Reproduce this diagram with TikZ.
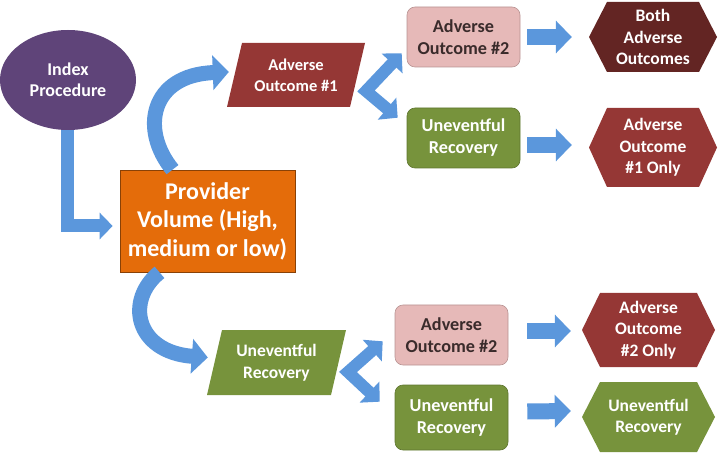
\documentclass[tikz,border=0pt]{standalone}
\usepackage{fontspec}
\setmainfont{Carlito}
\usetikzlibrary{shapes.geometric,arrows.meta,calc}
\definecolor{cpurple}{HTML}{5F4479}
\definecolor{corange}{HTML}{E46C0A}
\definecolor{cred}{HTML}{953735}
\definecolor{cmaroon}{HTML}{632523}
\definecolor{cpink}{HTML}{E6B9B8}
\definecolor{cgreen}{HTML}{77933C}
\definecolor{cblue}{HTML}{5B97DC}
\definecolor{cdark}{HTML}{3A2B2B}
\begin{document}
\begin{tikzpicture}[x=1pt,y=-1pt,
  lbl/.style={align=center, font=\fontsize{17.5}{21.5}\selectfont\bfseries, text=white, inner sep=0pt},
  rbox/.style={lbl, rectangle, rounded corners=8pt, minimum width=113pt, fill=#1, draw=#1!80!black, line width=0.6pt, font=\fontsize{18.2}{22}\selectfont\bfseries},
  hexa/.style={lbl, path picture={\fill[#1] (path picture bounding box.west) -- ([xshift=18pt]path picture bounding box.north west) -- ([xshift=-18pt]path picture bounding box.north east) -- (path picture bounding box.east) -- ([xshift=-18pt]path picture bounding box.south east) -- ([xshift=18pt]path picture bounding box.south west) -- cycle;}},
  parl/.style={lbl, path picture={\fill[#1] ([xshift=15pt]path picture bounding box.north west) -- (path picture bounding box.north east) -- ([xshift=-15pt]path picture bounding box.south east) -- (path picture bounding box.south west) -- cycle;}},
  rarrow/.style={cblue, line width=16pt, -{Triangle[width=32pt,length=16pt]}},
  darrow/.style={cblue, line width=12pt, line join=miter, {Triangle[width=28pt,length=14pt]}-{Triangle[width=28pt,length=14pt]}},
  carrow/.style={cblue, line width=15pt, -{Triangle[width=34pt,length=16pt]}},
]
\useasboundingbox (0,0) rectangle (720,454);

% nodes
\node[lbl, ellipse, fill=cpurple, minimum width=136pt, minimum height=100pt, font=\fontsize{18}{21.5}\selectfont\bfseries] (idx) at (68,80) {Index\\Procedure};
\node[lbl, rectangle, fill=corange, draw=corange!60!black, line width=0.7pt, minimum width=175pt, minimum height=102pt, font=\fontsize{24}{28.5}\selectfont\bfseries] (prov) at (207.5,221) {Provider\\Volume (High,\\medium or low)};

\node[parl=cred, minimum width=138pt, minimum height=64pt, font=\fontsize{16.5}{21}\selectfont\bfseries] (ao1) at (296,75) {Adverse\\Outcome \#1};
\node[rbox=cpink, text=cdark, minimum height=60pt] (ao2t) at (463.5,37) {Adverse\\Outcome \#2};
\node[rbox=cgreen, minimum height=60pt] (ur1) at (463.5,138) {Uneventful\\Recovery};
\node[hexa=cmaroon, minimum width=128pt, minimum height=70pt] (both) at (653,37) {Both\\Adverse\\Outcomes};
\node[hexa=cred, minimum width=128pt, minimum height=79pt] (ao1only) at (653,147.5) {Adverse\\Outcome\\\#1 Only};

\node[parl=cgreen, minimum width=139pt, minimum height=65pt] (ur2) at (276.5,362.5) {Uneventful\\Recovery};
\node[rbox=cpink, text=cdark, minimum height=60pt] (ao2b) at (451.5,335) {Adverse\\Outcome \#2};
\node[rbox=cgreen, minimum height=65pt] (ur3) at (451.5,417.5) {Uneventful\\Recovery};
\node[hexa=cred, minimum width=133pt, minimum height=74pt] (ao2only) at (648.5,330) {Adverse\\Outcome\\\#2 Only};
\node[hexa=cgreen, minimum width=133pt, minimum height=70pt] (urhex) at (648.5,417) {Uneventful\\Recovery};

% connectors
\draw[cblue, line width=13pt, line join=miter, -{Triangle[width=26pt,length=13pt]}] ([xshift=-1pt]idx.south) |- ([xshift=-7pt,yshift=-5pt]prov.west);
\draw[carrow] ([xshift=-35pt]prov.north) .. controls (140,130) and (150,75) .. ([xshift=2pt,yshift=3pt]ao1.west);
\draw[carrow] ([xshift=-48pt]prov.south) .. controls (125,300) and (135,352) .. ([xshift=1pt,yshift=5pt]ur2.west);

\coordinate (v1) at (366,91);
\draw[darrow] ([xshift=-5pt,yshift=14pt]ao2t.south west) -- (v1) -- ([xshift=-9pt,yshift=-10pt]ur1.north west);
\coordinate (v2) at (348,372);
\draw[darrow] ([xshift=-12pt,yshift=24pt]ao2b.south west) -- (v2) -- ([xshift=-15pt,yshift=-17pt]ur3.north west);

\draw[rarrow] ([xshift=7pt]ao2t.east) -- ([xshift=-17pt]both.west);
\draw[rarrow] ([xshift=7pt,yshift=-7pt]ur1.east) -- ([xshift=-17pt,yshift=2.5pt]ao1only.west);
\draw[rarrow] ([xshift=19pt,yshift=4pt]ao2b.east) -- ([xshift=-11pt,yshift=-1pt]ao2only.west);
\draw[rarrow] ([xshift=19pt,yshift=6pt]ur3.east) -- ([xshift=-11pt,yshift=6pt]urhex.west);
\end{tikzpicture}
\end{document}
